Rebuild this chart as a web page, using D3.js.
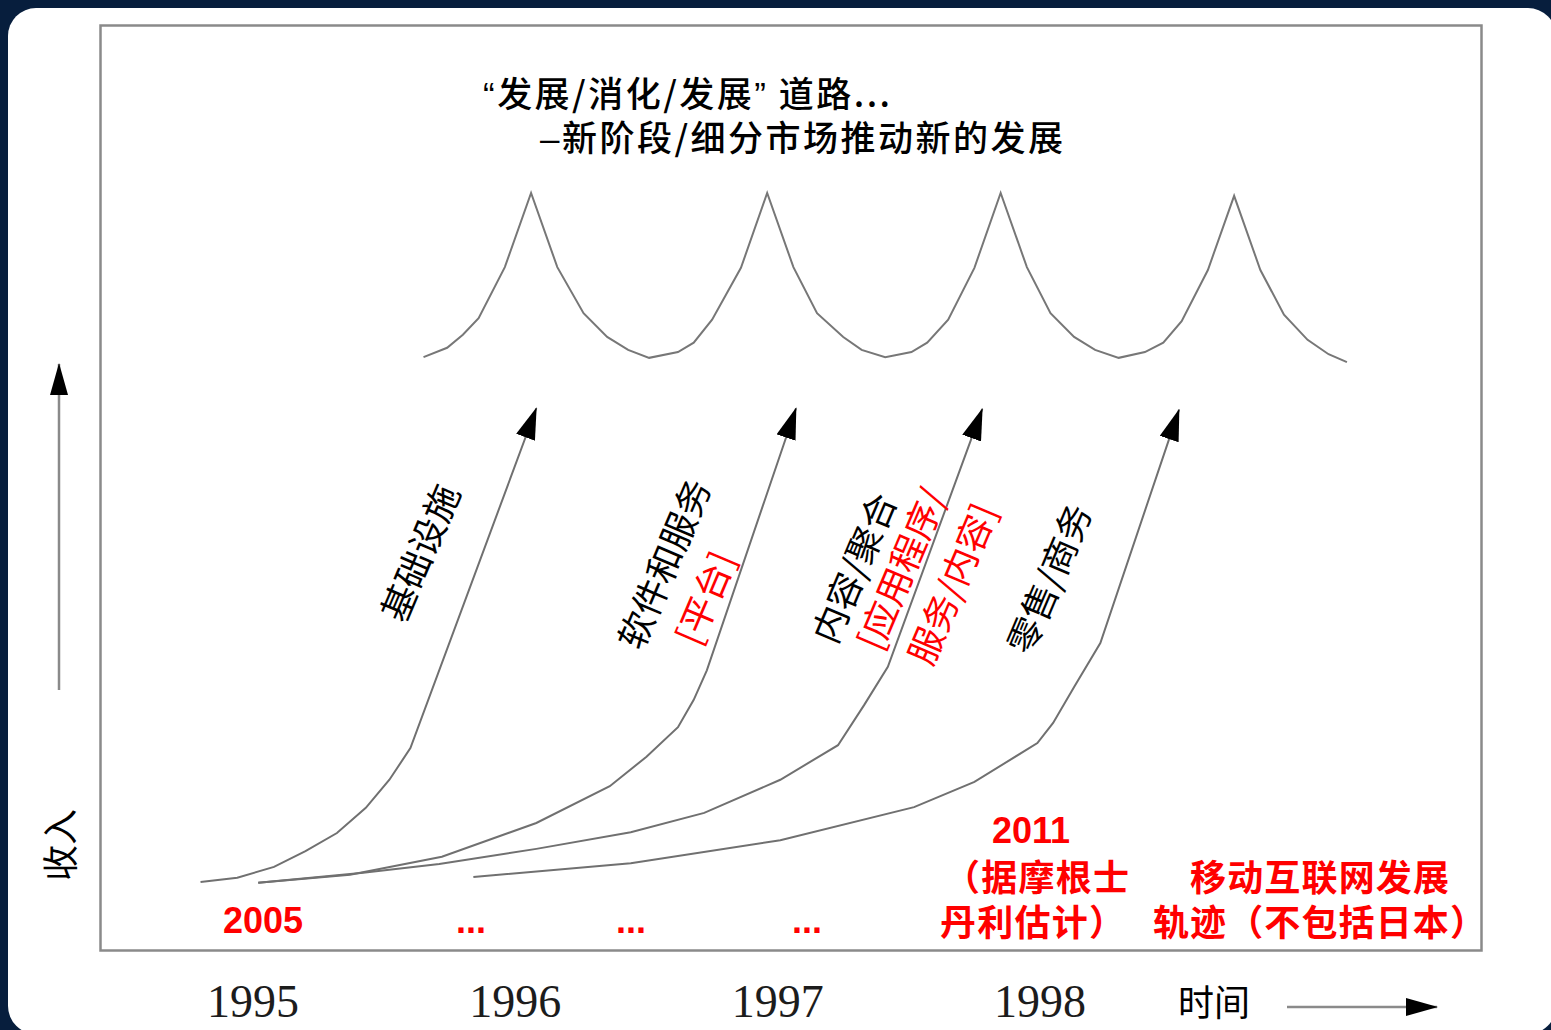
<!DOCTYPE html>
<html>
<head>
<meta charset="utf-8">
<script src="https://cdn.jsdelivr.net/npm/d3@7"></script>
<style>
  html, body { margin: 0; padding: 0; background: #071e3d; overflow: hidden; }
  svg { font-family: "Noto Sans CJK SC", "Noto Sans", sans-serif; }
</style>
</head>
<body>
<svg id="chart" width="1551" height="1030"></svg>
<script>
// ---- data: time (years) vs. revenue index (0-100) ----
const yearTicks = [1995, 1996, 1997, 1998];

// rising revenue curves, one per market phase: [year, revenue]
const infrastructure = [[1994.80,2.5],[1994.94,3.1],[1995.08,4.6],[1995.20,6.8],[1995.32,9.3],
  [1995.43,12.8],[1995.52,16.7],[1995.60,21.1],[1996.08,68.3]];
const software = [[1995.02,2.4],[1995.37,3.5],[1995.72,6.0],[1996.08,10.7],[1996.36,15.8],
  [1996.50,19.9],[1996.62,24.0],[1996.68,27.8],[1996.73,31.9],[1997.07,68.3]];
const content = [[1995.02,2.4],[1995.42,3.8],[1995.71,5.0],[1996.08,7.1],[1996.44,9.4],
  [1996.72,12.1],[1997.01,16.7],[1997.23,21.5],[1997.33,27.1],[1997.42,32.4],[1997.78,68.2]];
const retail = [[1995.84,3.2],[1996.44,5.1],[1997.01,8.3],[1997.52,12.9],[1997.75,16.4],
  [1997.99,21.8],[1998.05,24.6],[1998.13,29.6],[1998.23,35.7],[1998.53,68.1]];

// boom / digest cycle line
const cycles = [[1995.65,75.4],[1995.74,76.7],[1995.80,78.5],[1995.86,80.8],[1995.96,87.9],[1996.06,98.2],
  [1996.16,87.9],[1996.26,81.5],[1996.35,78.2],[1996.43,76.4],[1996.51,75.3],
  [1996.62,76.1],[1996.68,77.4],[1996.75,80.6],[1996.86,87.8],[1996.96,98.2],
  [1997.06,87.9],[1997.15,81.5],[1997.25,78.2],[1997.32,76.4],[1997.41,75.4],
  [1997.51,76.1],[1997.57,77.4],[1997.65,80.6],[1997.75,87.8],[1997.85,98.2],
  [1997.95,87.9],[1998.04,81.5],[1998.13,78.2],[1998.21,76.4],[1998.30,75.3],
  [1998.40,76.1],[1998.47,77.4],[1998.54,80.4],[1998.64,87.5],[1998.74,97.8],
  [1998.84,87.5],[1998.93,81.3],[1999.02,77.8],[1999.10,75.8],[1999.17,74.7]];

const curveNames = ["基础设施", "软件和服务", "内容/聚合", "零售/商务"];
const curveTags = ["", "[平台]", "[应用程序/|服务/内容]", ""];
const titleParts = [["“", "发展/消化/发展", "”", " 道路..."], ["–", "新阶段/细分市场推动新的发展"]];
const yearNotes = ["2005", "...", "...", "..."];
const sourceNote = ["2011", "（据摩根士", "丹利估计）"];
const trackNote = ["移动互联网发展", "轨迹（不包括日本）"];
const axisTitles = { x: "时间", y: "收入" };

// ---- drawing ----
const W = 1551, H = 1030;
const LATIN = "'Liberation Sans', Arial, sans-serif";
const SERIF = "'Liberation Serif', 'Times New Roman', serif";
const svg = d3.select("#chart");
const x = d3.scaleLinear().domain([1995, 1998]).range([253, 1040]);
const y = d3.scaleLinear().domain([0, 100]).range([900, 180]);

svg.append("rect").attr("width", W).attr("height", H).attr("fill", "#071e3d");
svg.append("rect").attr("x", 8).attr("y", 8).attr("width", 1548).attr("height", 1026)
  .attr("rx", 28).attr("fill", "#ffffff");

const defs = svg.append("defs");
defs.append("marker").attr("id", "head").attr("markerUnits", "userSpaceOnUse")
  .attr("viewBox", "0 0 32 20").attr("markerWidth", 32).attr("markerHeight", 20)
  .attr("refX", 31).attr("refY", 10).attr("orient", "auto")
  .append("path").attr("d", "M0,0L32,10L0,20Z").attr("fill", "#000");
defs.append("marker").attr("id", "axisHead").attr("markerUnits", "userSpaceOnUse")
  .attr("viewBox", "0 0 32 18").attr("markerWidth", 32).attr("markerHeight", 18)
  .attr("refX", 31).attr("refY", 9).attr("orient", "auto")
  .append("path").attr("d", "M0,0L32,9L0,18Z").attr("fill", "#000");

// plot frame
svg.append("rect").attr("x", 100.5).attr("y", 25.5).attr("width", 1381).attr("height", 925)
  .attr("fill", "none").attr("stroke", "#8a8a8a").attr("stroke-width", 2.5);

const line = d3.line().x(d => x(d[0])).y(d => y(d[1]));

svg.append("path").datum(cycles).attr("d", line)
  .attr("fill", "none").attr("stroke", "#777").attr("stroke-width", 2);

[infrastructure, software, content, retail].forEach(s => {
  svg.append("path").datum(s).attr("d", line)
    .attr("fill", "none").attr("stroke", "#707070").attr("stroke-width", 2)
    .attr("marker-end", "url(#head)");
});

// rotated curve labels
const angle = -67;
const labelPlaces = [
  [{ cx: 418, cy: 552 }],
  [{ cx: 662, cy: 563 }, { cx: 703, cy: 597 }],
  [{ cx: 852, cy: 567 }, { cx: 899, cy: 568 }, { cx: 950, cy: 583 }],
  [{ cx: 1047, cy: 578 }]
];
curveNames.forEach((name, i) => {
  const lines = [{ t: name, c: "#000" }];
  if (curveTags[i]) curveTags[i].split("|").forEach(t => lines.push({ t, c: "#ff0000" }));
  lines.forEach((l, j) => {
    const p = labelPlaces[i][j];
    svg.append("text").attr("transform", `translate(${p.cx},${p.cy}) rotate(${angle})`)
      .attr("text-anchor", "middle").attr("dominant-baseline", "central")
      .attr("font-size", 36).attr("fill", l.c).text(l.t);
  });
});

// title: quotes and dots set in a Latin face
const title = [[483, 107, 407], [540, 151, 523]];
titleParts.forEach((parts, i) => {
  const t = svg.append("text").attr("x", title[i][0]).attr("y", title[i][1])
    .attr("font-size", 35).attr("font-weight", 500)
    .attr("textLength", title[i][2]).attr("lengthAdjust", "spacing");
  parts.forEach(p => {
    const span = t.append("tspan").text(p);
    if (!/[\u4e00-\u9fff]/.test(p)) span.style("font-family", LATIN);
  });
});

// red notes inside the frame
const noteX = [263, 471, 631, 807];
yearNotes.forEach((t, i) => {
  svg.append("text").attr("x", noteX[i]).attr("y", 933).attr("text-anchor", "middle")
    .style("font-family", LATIN).attr("font-weight", "bold")
    .attr("font-size", 36).attr("fill", "#ff0000").text(t);
});
svg.append("text").attr("x", 1031).attr("y", 843).attr("text-anchor", "middle")
  .style("font-family", LATIN).attr("font-weight", "bold")
  .attr("font-size", 36).attr("fill", "#ff0000").text(sourceNote[0]);
[[sourceNote[1], 944, 891], [sourceNote[2], 940, 936], [trackNote[0], 1190, 891], [trackNote[1], 1153, 936]]
  .forEach(([t, px, py]) => {
    svg.append("text").attr("x", px).attr("y", py).attr("font-weight", "bold")
      .attr("font-size", 36).attr("textLength", t.length * 37).attr("lengthAdjust", "spacing")
      .attr("fill", "#ff0000").text(t);
  });

// x axis year labels
svg.append("g").selectAll("text").data(yearTicks).join("text")
  .attr("x", d => x(d)).attr("y", 1017).attr("text-anchor", "middle")
  .style("font-family", SERIF)
  .attr("font-size", 46).attr("fill", "#1c1c1c").text(d => d);

// axis titles with arrows
svg.append("text").attr("x", 1178).attr("y", 1016).attr("font-size", 36).text(axisTitles.x);
svg.append("line").attr("x1", 1287).attr("y1", 1007).attr("x2", 1437).attr("y2", 1007)
  .attr("stroke", "#8a8a8a").attr("stroke-width", 2.5).attr("marker-end", "url(#axisHead)");
svg.append("text").attr("transform", "translate(58,845) rotate(-90)")
  .attr("text-anchor", "middle").attr("dominant-baseline", "central")
  .attr("font-size", 36).text(axisTitles.y);
svg.append("line").attr("x1", 59).attr("y1", 690).attr("x2", 59).attr("y2", 364)
  .attr("stroke", "#8a8a8a").attr("stroke-width", 2.5).attr("marker-end", "url(#axisHead)");
</script>
</body>
</html>
